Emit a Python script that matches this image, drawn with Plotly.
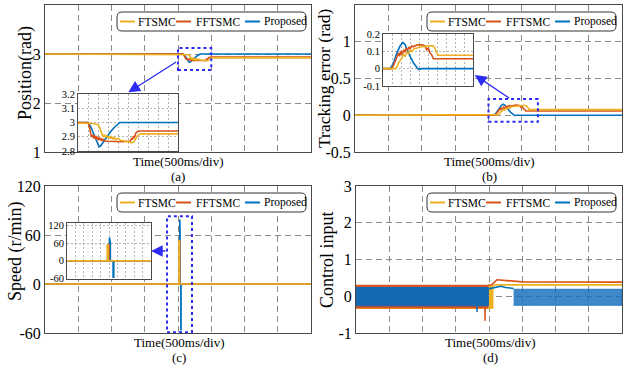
import plotly.graph_objects as go

# ---------------- data (time in s, 500 ms/div, 8 div) ----------------
names = ["FTSMC", "FFTSMC", "Proposed"]

# (a) Position (rad)
pos_t_ftsmc = [0, 2.06, 2.10, 2.14, 2.16, 2.175, 2.19, 2.20, 2.21, 2.22, 2.23, 2.24, 2.25, 2.26, 2.27, 2.28,
               2.29, 2.30, 2.32, 2.34, 2.37, 2.40, 2.43, 2.445, 2.46, 2.475, 2.49, 2.50, 4.0]
pos_ftsmc = [3.0, 3.0, 2.995, 2.99, 2.985, 2.96, 2.92, 2.90, 2.915, 2.895, 2.91, 2.89, 2.905, 2.885, 2.90, 2.885,
             2.895, 2.88, 2.89, 2.875, 2.87, 2.862, 2.858, 2.862, 2.885, 2.905, 2.915, 2.92, 2.92]
pos_t_fftsmc = [0, 2.08, 2.09, 2.10, 2.108, 2.115, 2.122, 2.129, 2.136, 2.143, 2.15, 2.157, 2.164, 2.171, 2.178,
                2.185, 2.192, 2.20, 2.21, 2.24, 2.30, 2.36, 2.42, 2.428, 2.435, 2.442, 2.45, 2.462, 2.475, 2.49, 4.0]
pos_fftsmc = [3.0, 3.0, 2.97, 2.93, 2.90, 2.915, 2.89, 2.91, 2.885, 2.905, 2.88, 2.90, 2.875, 2.895, 2.875,
              2.89, 2.87, 2.885, 2.87, 2.868, 2.865, 2.865, 2.87, 2.89, 2.88, 2.90, 2.895, 2.925, 2.935, 2.94, 2.94]
pos_t_prop = [0, 2.08, 2.10, 2.12, 2.14, 2.155, 2.168, 2.18, 2.20, 2.23, 2.26, 2.29, 2.32, 2.335, 4.0]
pos_prop = [3.0, 3.0, 2.975, 2.93, 2.88, 2.845, 2.83, 2.835, 2.86, 2.90, 2.935, 2.965, 2.99, 3.0, 3.0]

# (b) Tracking error (rad)
err_t_ftsmc = [0, 2.136, 2.154, 2.173, 2.21, 2.228, 2.246, 2.265, 2.283, 2.301, 2.32, 2.338, 2.375, 2.412,
               2.449, 2.485, 2.522, 2.559, 2.577, 2.596, 2.614, 4.0]
err_ftsmc = [0, 0, 0.008, 0.034, 0.062, 0.081, 0.072, 0.094, 0.087, 0.106, 0.098, 0.113, 0.119, 0.125,
             0.128, 0.13, 0.132, 0.132, 0.119, 0.09, 0.077, 0.077]
err_t_fftsmc = [0, 2.099, 2.118, 2.154, 2.173, 2.184, 2.199, 2.213, 2.228, 2.243, 2.257, 2.272, 2.287, 2.301,
                2.32, 2.338, 2.375, 2.412, 2.449, 2.467, 2.485, 2.504, 2.522, 2.54, 2.559, 4.0]
err_fftsmc = [0, 0, 0.02, 0.062, 0.09, 0.072, 0.10, 0.081, 0.109, 0.094, 0.119, 0.106, 0.125, 0.115,
              0.132, 0.126, 0.136, 0.138, 0.136, 0.13, 0.109, 0.119, 0.09, 0.081, 0.057, 0.057]
err_t_prop = [0, 2.081, 2.118, 2.154, 2.191, 2.221, 2.246, 2.283, 2.338, 2.393, 2.43, 4.0]
err_prop = [0, 0, 0.034, 0.09, 0.132, 0.151, 0.138, 0.09, 0.034, -0.004, 0, 0]

# (c) Speed (r/min)
spd_t_ftsmc = [0, 2.017, 2.017, 2.021, 2.021, 4.0]
spd_ftsmc = [0, 0, 53, 53, 0, 0]
spd_t_fftsmc = [0, 2.021, 2.021, 2.025, 2.025, 4.0]
spd_fftsmc = [0, 0, 53, 53, 0, 0]
spd_t_prop = [0, 2.027, 2.027, 2.031, 2.031, 2.043, 2.043, 2.046, 2.046, 4.0]
spd_prop = [0, 0, 79, 62, 0, 0, -56, -56, 0, 0]

# (d) Control input: chattering envelopes (hi/lo) and smooth parts
u_band_t_ftsmc = [0, 2.06]
u_band_hi_ftsmc = [0.27, 0.27]
u_band_lo_ftsmc = [-0.33, -0.33]
u_t_ftsmc = [2.06, 2.10, 4.0]
u_ftsmc = [0.28, 0.31, 0.31]

u_band_t_fftsmc = [0, 1.935, 1.94, 1.945, 1.985]
u_band_hi_fftsmc = [0.30, 0.30, 0.30, 0.30, 0.30]
u_band_lo_fftsmc = [-0.32, -0.32, -0.67, -0.32, -0.32]
u_t_fftsmc = [1.985, 2.04, 2.12, 2.20, 2.35, 2.50, 4.0]
u_fftsmc = [0.30, 0.31, 0.45, 0.44, 0.41, 0.39, 0.385]

u_band_t_prop = [0, 1.815, 1.82, 1.825, 1.99]
u_band_hi_prop = [0.24, 0.24, 0.24, 0.24, 0.24]
u_band_lo_prop = [-0.26, -0.26, -0.43, -0.26, -0.26]
u_t_prop = [1.99, 2.05, 2.12, 2.18, 2.25, 2.33, 2.37]
u_prop = [0.20, 0.22, 0.26, 0.27, 0.24, 0.22, 0.21]
u_band2_t_prop = [2.37, 4.0]
u_band2_hi_prop = [0.19, 0.19]
u_band2_lo_prop = [-0.245, -0.245]

# tick labels
pos_ticks = [1, 2, 3, 4]
err_ticks = [-0.5, 0, 0.5, 1, 1.5]
err_tick_labels = ["-0.5", "0", "0.5", "1", "1.5"]
spd_ticks = [-60, 0, 60, 120]
spd_tick_labels = ["-60", "0", "60", "120"]
u_ticks = [-1, 0, 1, 2, 3]
u_tick_labels = ["-1", "0", "1", "2", "3"]
ins_a_ticks = [2.8, 2.9, 3.0, 3.1, 3.2]
ins_a_labels = ["2.8", "2.9", "3", "3.1", "3.2"]
ins_b_ticks = [-0.1, 0, 0.1, 0.2]
ins_b_labels = ["-0.1", "0", "0.1", "0.2"]
ins_c_ticks = [-60, 0, 60, 120]
ins_c_labels = ["-60", "0", "60", "120"]

# ---------------- styling ----------------
W, H = 629, 369
FONT = "Liberation Serif"
COL = {"FTSMC": "#EDB120", "FFTSMC": "#D95319", "Proposed": "#0072BD"}
GRID = "#8a8a8a"
AXLINE = "#4a4a4a"
MB = "#2b2bf2"
LW = 1.6


def px(x):
    return x / W


def py(y):
    return 1 - y / H


fig = go.Figure()


def line(t, v, name, n, width=LW):
    fig.add_trace(go.Scatter(x=t, y=v, mode="lines", showlegend=False, hoverinfo="skip",
                             line=dict(color=COL[name], width=width),
                             xaxis="x" if n == 1 else f"x{n}", yaxis="y" if n == 1 else f"y{n}"))


def band(t, hi, lo, n, fc):
    fig.add_trace(go.Scatter(x=list(t) + list(t)[::-1], y=list(hi) + list(lo)[::-1], mode="lines",
                             fill="toself", fillcolor=fc, showlegend=False, hoverinfo="skip",
                             line=dict(color=fc, width=1),
                             xaxis=f"x{n}", yaxis=f"y{n}"))


# main panels: (a)=1, (b)=2, (c)=3, (d)=4 ; insets 5,6,7
for n in (1, 5):
    line(pos_t_prop, pos_prop, "Proposed", n)
    line(pos_t_fftsmc, pos_fftsmc, "FFTSMC", n)
    line(pos_t_ftsmc, pos_ftsmc, "FTSMC", n)
for n in (2, 6):
    line(err_t_prop, err_prop, "Proposed", n)
    line(err_t_fftsmc, err_fftsmc, "FFTSMC", n)
    line(err_t_ftsmc, err_ftsmc, "FTSMC", n)
for n in (3, 7):
    line(spd_t_prop, spd_prop, "Proposed", n)
    line(spd_t_fftsmc, spd_fftsmc, "FFTSMC", n)
    line(spd_t_ftsmc, spd_ftsmc, "FTSMC", n)

band(u_band_t_ftsmc, u_band_hi_ftsmc, u_band_lo_ftsmc, 4, COL["FTSMC"])
line(u_t_ftsmc, u_ftsmc, "FTSMC", 4)
band(u_band_t_fftsmc, u_band_hi_fftsmc, u_band_lo_fftsmc, 4, COL["FFTSMC"])
line(u_t_fftsmc, u_fftsmc, "FFTSMC", 4)
band(u_band_t_prop, u_band_hi_prop, u_band_lo_prop, 4, "#1468b4")
line(u_t_prop, u_prop, "Proposed", 4)
band(u_band2_t_prop, u_band2_hi_prop, u_band2_lo_prop, 4, "rgba(20,110,190,0.82)")

# ---------------- axes ----------------
panels = {
    1: dict(l=45, r=311, t=5, b=152, yr=[1, 4], tv=pos_ticks, tt=[str(v) for v in pos_ticks]),
    2: dict(l=355, r=622, t=5, b=152, yr=[-0.5, 1.5], tv=err_ticks, tt=err_tick_labels),
    3: dict(l=45, r=311, t=186, b=333, yr=[-60, 120], tv=spd_ticks, tt=spd_tick_labels),
    4: dict(l=356, r=622, t=186, b=333, yr=[-1, 3], tv=u_ticks, tt=u_tick_labels),
}
lay = {}
for n, p in panels.items():
    xs = "xaxis" if n == 1 else f"xaxis{n}"
    ys = "yaxis" if n == 1 else f"yaxis{n}"
    lay[xs] = dict(domain=[px(p["l"]), px(p["r"])], anchor="y" if n == 1 else f"y{n}", range=[0, 4],
                   tickvals=[0.5, 1, 1.5, 2, 2.5, 3, 3.5], showticklabels=False, ticks="",
                   showgrid=True, gridcolor=GRID, griddash="6px,4px", gridwidth=1, automargin=False,
                   showline=True, mirror=True, linecolor=AXLINE, linewidth=1, zeroline=False, fixedrange=True)
    lay[ys] = dict(domain=[py(p["b"]), py(p["t"])], anchor="x" if n == 1 else f"x{n}", range=p["yr"],
                   tickvals=p["tv"], ticktext=p["tt"], ticks="", automargin=False,
                   tickfont=dict(family=FONT, size=16, color="black"),
                   showgrid=True, gridcolor=GRID, griddash="6px,4px", gridwidth=1,
                   showline=True, mirror=True, linecolor=AXLINE, linewidth=1, zeroline=False, fixedrange=True)

insets = {
    5: dict(l=78, r=178, t=94, b=151, xr=[2.0, 2.8], yr=[2.8, 3.2], tv=ins_a_ticks, tt=ins_a_labels),
    6: dict(l=383, r=473, t=34, b=86, xr=[2.0, 3.0], yr=[-0.1, 0.2], tv=ins_b_ticks, tt=ins_b_labels),
    7: dict(l=67, r=151, t=223, b=279, xr=[1.84, 2.21], yr=[-62, 128], tv=ins_c_ticks, tt=ins_c_labels),
}
for n, p in insets.items():
    x0, x1 = p["xr"]
    lay[f"xaxis{n}"] = dict(domain=[px(p["l"]), px(p["r"])], anchor=f"y{n}", range=p["xr"],
                            tickvals=[x0 + i * (x1 - x0) / 10 for i in range(1, 10)], automargin=False,
                            showticklabels=False, ticks="", showgrid=True, gridcolor="#b5b5b5",
                            griddash="2px,2px", gridwidth=1, showline=True, mirror=True,
                            linecolor=AXLINE, linewidth=1, zeroline=False, fixedrange=True)
    lay[f"yaxis{n}"] = dict(domain=[py(p["b"]), py(p["t"])], anchor=f"x{n}", range=p["yr"],
                            tickvals=p["tv"], ticktext=p["tt"], ticks="", automargin=False,
                            tickfont=dict(family=FONT, size=10.5, color="black"),
                            showgrid=True, gridcolor="#b5b5b5", griddash="2px,2px", gridwidth=1,
                            showline=True, mirror=True, linecolor=AXLINE, linewidth=1,
                            zeroline=False, fixedrange=True)

fig.update_layout(**lay)

# ---------------- zoom boxes & arrows ----------------
zoom_boxes = [("x", "y", 2.0, 2.5, 2.673, 3.122),
              ("x2", "y2", 2.0, 2.74, -0.09, 0.22),
              ("x3", "y3", 1.835, 2.21, -59, 83)]
for xr, yr, a0, a1, b0, b1 in zoom_boxes:
    fig.add_shape(type="rect", xref=xr, yref=yr, x0=a0, x1=a1, y0=b0, y1=b1,
                  line=dict(color=MB, width=2, dash="dot"))

arrows = [("x", "y", 1.253, 2.218, 1.995, 2.857),
          ("x2", "y2", 1.794, 0.548, 2.331, 0.221),
          ("x3", "y3", 1.594, 40.4, 1.835, 40.4)]
for xr, yr, hx, hy, tx, ty in arrows:
    fig.add_annotation(xref=xr, yref=yr, axref=xr, ayref=yr, x=hx, y=hy, ax=tx, ay=ty, text="",
                       showarrow=True, arrowhead=2, arrowsize=1.8, arrowwidth=1.3, arrowcolor=MB)


# ---------------- legends ----------------
def add_legend(L, T):
    w, h, r = 189, 19, 5
    x0, x1, y0, y1 = px(L), px(L + w), py(T), py(T + h)
    rx, ry = r / W, r / H
    path = (f"M {x0+rx},{y0} L {x1-rx},{y0} Q {x1},{y0} {x1},{y0-ry} L {x1},{y1+ry} "
            f"Q {x1},{y1} {x1-rx},{y1} L {x0+rx},{y1} Q {x0},{y1} {x0},{y1+ry} "
            f"L {x0},{y0-ry} Q {x0},{y0} {x0+rx},{y0} Z")
    fig.add_shape(type="path", xref="paper", yref="paper", path=path,
                  line=dict(color="#333333", width=1), fillcolor="white")
    for name, lx, tx in zip(names, (3, 59, 128), (20, 78, 146)):
        fig.add_shape(type="line", xref="paper", yref="paper", x0=px(L + lx), x1=px(L + lx + 15),
                      y0=py(T + 9.5), y1=py(T + 9.5), line=dict(color=COL[name], width=2))
        fig.add_annotation(xref="paper", yref="paper", x=px(L + tx), y=py(T + 9.5), text=name,
                           showarrow=False, xanchor="left", yanchor="middle", borderpad=0,
                           font=dict(family=FONT, size=11.5, color="black"))


add_legend(117, 12)
add_legend(427, 12)
add_legend(117, 193)
add_legend(427, 193)


# ---------------- titles ----------------
def txt(x, y, s, size, angle=0):
    fig.add_annotation(xref="paper", yref="paper", x=px(x), y=py(y), text=s, showarrow=False,
                       xanchor="center", yanchor="middle", textangle=angle, borderpad=0,
                       font=dict(family=FONT, size=size, color="black"))


for cx, ty, lab in ((178, 161.5, "(a)"), (489, 161.5, "(b)"), (179, 342, "(c)"), (490, 342, "(d)")):
    txt(cx, ty, "Time(500ms/div)", 13)
    txt(cx, ty + 15, lab, 13)

txt(26, 73, "Position(rad)", 18, -90)
txt(324, 79, "Tracking error (rad)", 17.5, -90)
txt(15, 252, "Speed (r/min)", 18, -90)
txt(327, 260, "Control input", 18, -90)

fig.update_layout(width=W, height=H, autosize=False, margin=dict(l=0, r=0, t=0, b=0, autoexpand=False),
                  paper_bgcolor="white", plot_bgcolor="white", showlegend=False)

fig.write_html("out.html", config={"displayModeBar": False, "staticPlot": True},
               post_script="document.body.style.margin='0px';document.body.style.padding='0px';")
